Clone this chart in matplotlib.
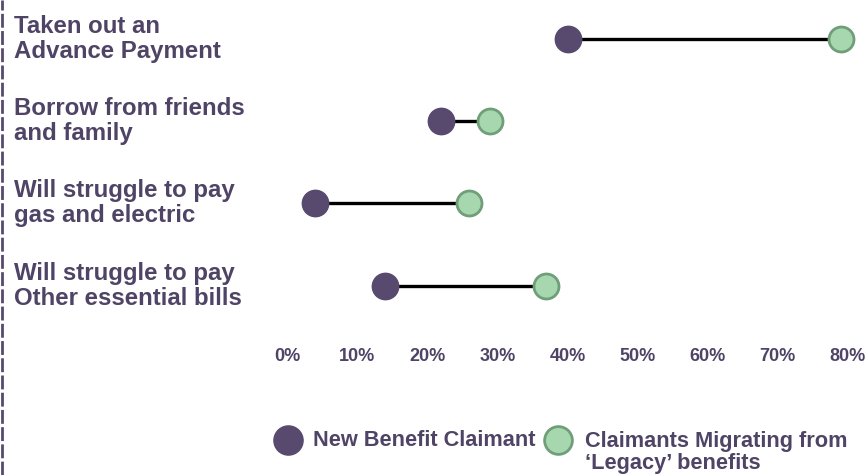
import matplotlib
matplotlib.use("Agg")
import matplotlib.pyplot as plt
from matplotlib.lines import Line2D
from matplotlib.ticker import PercentFormatter

plt.rcParams['font.family'] = ['Liberation Sans', 'DejaVu Sans']

categories = ["Taken out an\nAdvance Payment",
              "Borrow from friends\nand family",
              "Will struggle to pay\ngas and electric",
              "Will struggle to pay\nOther essential bills"]
new_claimant = [0.40, 0.22, 0.04, 0.14]
migrating = [0.79, 0.29, 0.26, 0.37]
xticks = [0, 0.1, 0.2, 0.3, 0.4, 0.5, 0.6, 0.7, 0.8]

series_names = ["New Benefit Claimant", "Claimants Migrating from\n\u2018Legacy\u2019 benefits"]

purple = "#574a6e"
green_face = "#a6d7ae"
green_edge = "#6f9e79"
text_col = "#4f4466"

W, H = 868, 475
fig = plt.figure(figsize=(W / 100, H / 100), dpi=100)
ax = fig.add_axes([287 / W, (H - 340) / H, (848 - 287) / W, 340 / H])

ys = list(range(len(categories)))
for y, a, b in zip(ys, new_claimant, migrating):
    ax.plot([a, b], [y, y], color="black", lw=2.4, zorder=1, clip_on=False)
ax.plot(new_claimant, ys, "o", ms=19, color=purple, mec=purple, zorder=2, clip_on=False)
ax.plot(migrating, ys, "o", ms=18, color=green_face, mec=green_edge, mew=2, zorder=3,
        clip_on=False)

ax.set_xlim(0, 0.8)
ax.set_ylim(3.66, -0.47)
ax.set_xticks(xticks)
ax.xaxis.set_major_formatter(PercentFormatter(1.0, decimals=0))
ax.tick_params(axis="x", length=0, pad=6, labelsize=13, labelcolor=text_col)
for lab in ax.get_xticklabels():
    lab.set_fontweight("bold")
ax.set_yticks([])
for s in ax.spines.values():
    s.set_visible(False)

# category labels on the left
trans = ax.get_yaxis_transform()
for y, cat in zip(ys, categories):
    ax.text(-(287 - 14) / (848 - 287), y, cat, transform=trans, ha="left", va="center",
            fontsize=17.3, fontweight="bold", color=text_col, linespacing=1.1)

# dashed border on the left
fig.add_artist(Line2D([2 / W, 2 / W], [0, 1], color=purple, lw=2, ls=(0, (5, 1.2))))

# legend, drawn by hand
ly = 1 - 440 / H
fig.add_artist(Line2D([288 / W], [ly], marker="o", ms=21, color=purple, mec=purple, ls="none"))
fig.text(313 / W, ly, series_names[0], ha="left", va="center", fontsize=15.7,
         fontweight="bold", color=text_col)
fig.add_artist(Line2D([558 / W], [ly], marker="o", ms=20, color=green_face, mec=green_edge,
                      mew=2, ls="none"))
fig.text(585 / W, ly + 0.018, series_names[1], ha="left", va="top", fontsize=15.7,
         fontweight="bold", color=text_col, linespacing=1.05)

fig.savefig("out.png", dpi=100)
